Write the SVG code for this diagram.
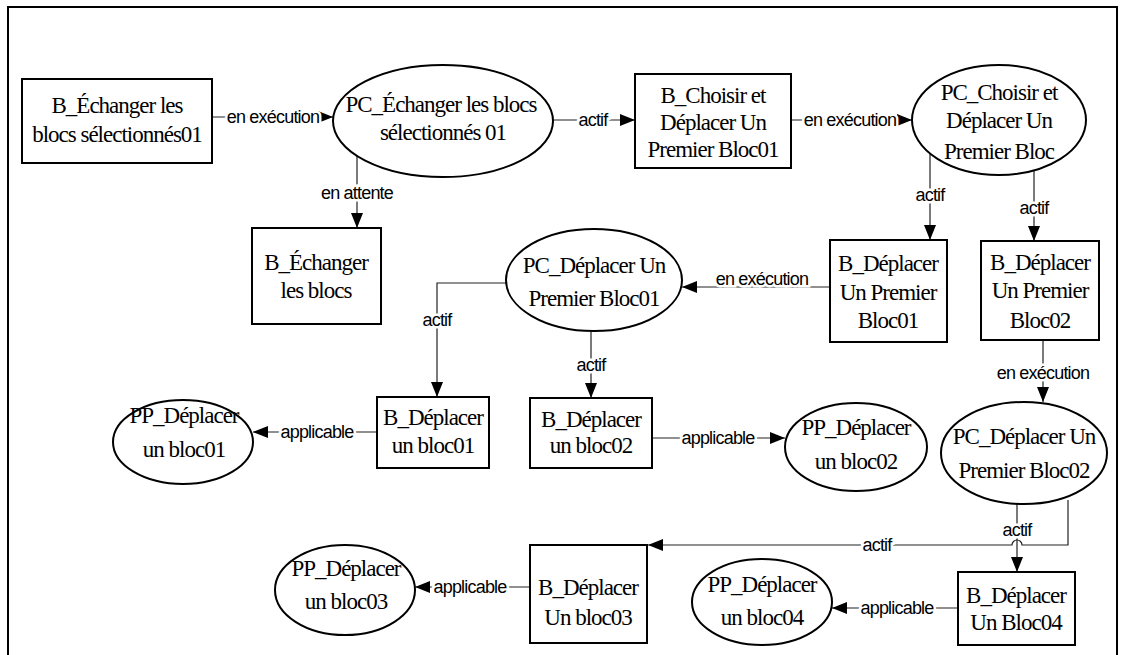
<svg xmlns="http://www.w3.org/2000/svg" width="1121" height="655" viewBox="0 0 1121 655">
<style>
.box{fill:#fff;stroke:#000;stroke-width:2}
.t{font-family:'Liberation Serif',serif;font-size:23px;letter-spacing:-1px;text-anchor:middle;fill:#000}
.c{fill:none;stroke:#222;stroke-width:1.2}
.l{font-family:'Liberation Sans',sans-serif;font-size:18px;letter-spacing:-0.8px;text-anchor:middle;fill:#000;stroke:#fff;stroke-width:5;paint-order:stroke;dominant-baseline:central}
</style>
<defs>
<marker id="ah" markerUnits="userSpaceOnUse" markerWidth="16" markerHeight="12" refX="15" refY="6" orient="auto">
<path d="M0,0 L15,6 L0,12 Z" fill="#000"/>
</marker>
</defs>
<rect x="8" y="7" width="1109" height="660" fill="#fff" stroke="#000" stroke-width="2"/>
<g id="connectors">
<path class="c" d="M212,117 H333" marker-end="url(#ah)"/>
<text class="l" x="273" y="117">en exécution</text>
<path class="c" d="M553,120 H635" marker-end="url(#ah)"/>
<text class="l" x="593" y="120">actif</text>
<path class="c" d="M791,120 H912" marker-end="url(#ah)"/>
<text class="l" x="850" y="120">en exécution</text>
<path class="c" d="M357,156 V228" marker-end="url(#ah)"/>
<text class="l" x="357" y="193">en attente</text>
<path class="c" d="M930,154 V240" marker-end="url(#ah)"/>
<text class="l" x="930" y="195">actif</text>
<path class="c" d="M1034,170 V241" marker-end="url(#ah)"/>
<text class="l" x="1034" y="208">actif</text>
<path class="c" d="M830,287 H682" marker-end="url(#ah)"/>
<text class="l" x="762" y="279">en exécution</text>
<path class="c" d="M506,283 H437 V397" marker-end="url(#ah)"/>
<text class="l" x="437" y="320">actif</text>
<path class="c" d="M591,331 V398" marker-end="url(#ah)"/>
<text class="l" x="591" y="365">actif</text>
<path class="c" d="M1043,340 V402" marker-end="url(#ah)"/>
<text class="l" x="1043" y="373">en exécution</text>
<path class="c" d="M377,432 H253" marker-end="url(#ah)"/>
<text class="l" x="317" y="432">applicable</text>
<path class="c" d="M652,438 H785" marker-end="url(#ah)"/>
<text class="l" x="718" y="438">applicable</text>
<path class="c" d="M1017,504 V572" marker-end="url(#ah)"/>
<text class="l" x="1017" y="530">actif</text>
<path class="c" d="M1068,500 V545 H1022 A5,5 0 0 0 1012,545 H648" marker-end="url(#ah)"/>
<text class="l" x="877" y="545">actif</text>
<path class="c" d="M530,587 H415" marker-end="url(#ah)"/>
<text class="l" x="470" y="587">applicable</text>
<path class="c" d="M958,608 H832" marker-end="url(#ah)"/>
<text class="l" x="897" y="608">applicable</text>
</g>
<g id="n1"><rect class="box" x="22" y="79" width="190" height="84"/><text class="t" x="117" y="113">B_Échanger les</text><text class="t" x="117" y="142">blocs sélectionnés01</text></g>
<g id="n2"><ellipse class="box" cx="443" cy="121" rx="110" ry="56"/><text class="t" x="441" y="112">PC_Échanger les blocs</text><text class="t" x="443" y="140">sélectionnés 01</text></g>
<g id="n3"><rect class="box" x="635" y="74" width="156" height="94"/><text class="t" x="713" y="103">B_Choisir et</text><text class="t" x="713" y="130">Déplacer Un</text><text class="t" x="713" y="157">Premier Bloc01</text></g>
<g id="n4"><ellipse class="box" cx="999" cy="120" rx="87" ry="55"/><text class="t" x="999" y="100">PC_Choisir et</text><text class="t" x="999" y="128">Déplacer Un</text><text class="t" x="999" y="159">Premier Bloc</text></g>
<g id="n5"><rect class="box" x="252" y="228" width="129" height="96"/><text class="t" x="316" y="270">B_Échanger</text><text class="t" x="316" y="298">les blocs</text></g>
<g id="n6"><ellipse class="box" cx="594" cy="280" rx="88" ry="51"/><text class="t" x="594" y="273">PC_Déplacer Un</text><text class="t" x="594" y="306">Premier Bloc01</text></g>
<g id="n7"><rect class="box" x="830" y="240" width="117" height="102"/><text class="t" x="888" y="271">B_Déplacer</text><text class="t" x="888" y="300">Un Premier</text><text class="t" x="888" y="328">Bloc01</text></g>
<g id="n8"><rect class="box" x="981" y="241" width="118" height="99"/><text class="t" x="1040" y="270">B_Déplacer</text><text class="t" x="1040" y="298">Un Premier</text><text class="t" x="1040" y="328">Bloc02</text></g>
<g id="n9"><ellipse class="box" cx="1024" cy="453" rx="83" ry="51"/><text class="t" x="1024" y="444">PC_Déplacer Un</text><text class="t" x="1024" y="478">Premier Bloc02</text></g>
<g id="n10"><rect class="box" x="958" y="572" width="117" height="73"/><text class="t" x="1016" y="603">B_Déplacer</text><text class="t" x="1016" y="630">Un Bloc04</text></g>
<g id="n11"><rect class="box" x="530" y="545" width="117" height="98"/><text class="t" x="588" y="595">B_Déplacer</text><text class="t" x="588" y="625">Un bloc03</text></g>
<g id="n12"><ellipse class="box" cx="345" cy="590" rx="70" ry="45"/><text class="t" x="346" y="576">PP_Déplacer</text><text class="t" x="346" y="609">un bloc03</text></g>
<g id="n13"><ellipse class="box" cx="762" cy="602" rx="70" ry="43"/><text class="t" x="762" y="592">PP_Déplacer</text><text class="t" x="762" y="625">un bloc04</text></g>
<g id="n14"><rect class="box" x="377" y="397" width="112" height="71"/><text class="t" x="433" y="425">B_Déplacer</text><text class="t" x="433" y="453">un bloc01</text></g>
<g id="n15"><ellipse class="box" cx="183" cy="442" rx="70" ry="42"/><text class="t" x="184" y="423">PP_Déplacer</text><text class="t" x="184" y="457">un bloc01</text></g>
<g id="n16"><rect class="box" x="530" y="398" width="122" height="70"/><text class="t" x="591" y="427">B_Déplacer</text><text class="t" x="591" y="453">un bloc02</text></g>
<g id="n17"><ellipse class="box" cx="856" cy="447" rx="71" ry="44"/><text class="t" x="856" y="435">PP_Déplacer</text><text class="t" x="856" y="469">un bloc02</text></g>
</svg>
